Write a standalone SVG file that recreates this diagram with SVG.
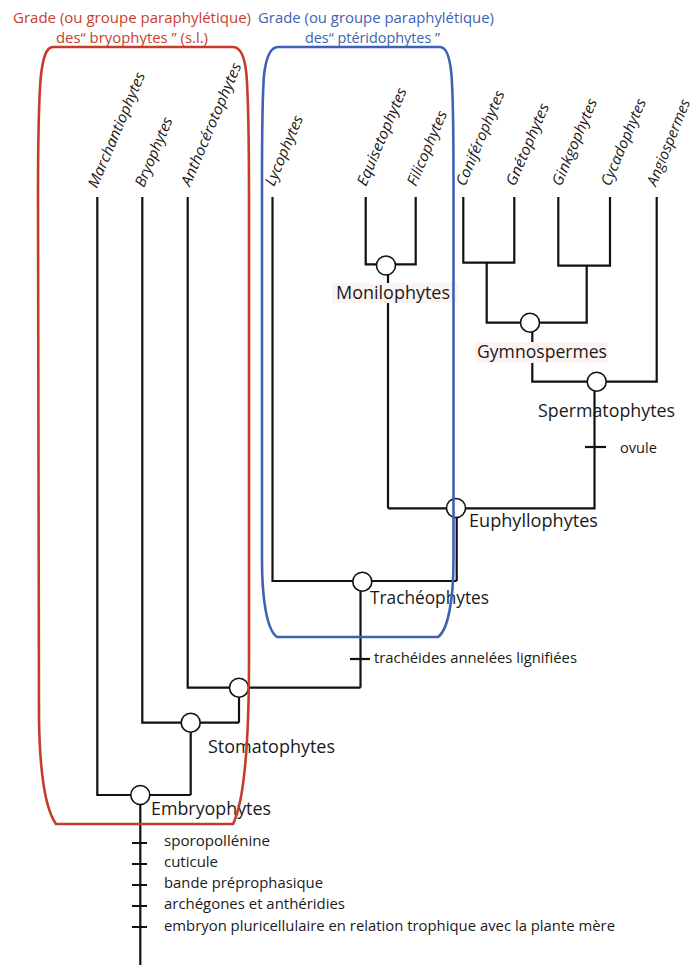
<svg xmlns="http://www.w3.org/2000/svg" width="694" height="965" viewBox="0 0 694 965">
<style>
  text { font-family: "Open Sans", "Noto Sans", sans-serif; fill: #1a1a1a; }
  .leaf { font-size: 15px; font-style: italic; }
  .clade { font-size: 18px; }
  .char { font-size: 15px; }
  .hdr { font-size: 15px; }
  .red { fill: #c8402e; }
  .blue { fill: #3d62b4; }
  .ln { fill: none; stroke: #111; stroke-width: 2.2; stroke-linejoin: miter; stroke-linecap: butt; }
  .nd { fill: #fff; stroke: #111; stroke-width: 1.6; }
  .bg { fill: #fcf3f3; }
</style>
<rect width="694" height="965" fill="#fff"/>

<g id="headers">
  <text class="hdr red" x="13" y="23" textLength="238" lengthAdjust="spacingAndGlyphs">Grade (ou groupe paraphylétique)</text>
  <text class="hdr red" x="56" y="42.5" textLength="152" lengthAdjust="spacingAndGlyphs">des“ bryophytes ” (s.l.)</text>
  <text class="hdr blue" x="258" y="23" textLength="236" lengthAdjust="spacingAndGlyphs">Grade (ou groupe paraphylétique)</text>
  <text class="hdr blue" x="305" y="42.5" textLength="135" lengthAdjust="spacingAndGlyphs">des“ ptéridophytes ”</text>
</g>

<g id="connectors">
  <path class="ln" d="M97.3 197 V795 H190.7"/>
  <path class="ln" d="M190.7 795 V722.7"/>
  <path class="ln" d="M142.3 197 V722.7 H239"/>
  <path class="ln" d="M239 722.7 V687.7"/>
  <path class="ln" d="M187.7 197 V687.7 H360.5"/>
  <path class="ln" d="M360.5 687.7 V581"/>
  <path class="ln" d="M272.5 197 V581 H456.7"/>
  <path class="ln" d="M456.7 581 V508.3"/>
  <path class="ln" d="M388 508.3 H594.5 V381.7"/>
  <path class="ln" d="M388 508.3 V264.3"/>
  <path class="ln" d="M365.7 197 V264.3 H415.7 V197"/>
  <path class="ln" d="M463.3 197 V262.7 H514.3 V197"/>
  <path class="ln" d="M486.7 262.7 V322.7 H586.7 V265.7"/>
  <path class="ln" d="M558.3 197 V265.7 H610 V197"/>
  <path class="ln" d="M532.3 322.7 V381.7 H656.7 V197"/>
  <path class="ln" d="M140.3 795 V965"/>
  <path class="ln" d="M585 447 H606"/>
  <path class="ln" d="M350 659 H370"/>
  <path class="ln" d="M132 843 H147 M132 864 H147 M132 885 H147 M132 906 H147 M132 927 H147"/>
</g>

<g id="leaf-marchantiophytes"><text class="leaf" transform="translate(97,189) rotate(-67)" textLength="124" lengthAdjust="spacingAndGlyphs">Marchantiophytes</text></g>
<g id="leaf-bryophytes"><text class="leaf" transform="translate(144,188) rotate(-67)" textLength="74" lengthAdjust="spacingAndGlyphs">Bryophytes</text></g>
<g id="leaf-anthocerotophytes"><text class="leaf" transform="translate(190,187) rotate(-67)" textLength="132" lengthAdjust="spacingAndGlyphs">Anthocérotophytes</text></g>
<g id="leaf-lycophytes"><text class="leaf" transform="translate(274,187) rotate(-67)" textLength="75" lengthAdjust="spacingAndGlyphs">Lycophytes</text></g>
<g id="leaf-equisetophytes"><text class="leaf" transform="translate(366,187) rotate(-67)" textLength="105" lengthAdjust="spacingAndGlyphs">Equisetophytes</text></g>
<g id="leaf-filicophytes"><text class="leaf" transform="translate(416,187) rotate(-67)" textLength="80" lengthAdjust="spacingAndGlyphs">Filicophytes</text></g>
<g id="leaf-coniferophytes"><text class="leaf" transform="translate(465,187) rotate(-67)" textLength="102" lengthAdjust="spacingAndGlyphs">Coniférophytes</text></g>
<g id="leaf-gnetophytes"><text class="leaf" transform="translate(515,187) rotate(-67)" textLength="88" lengthAdjust="spacingAndGlyphs">Gnétophytes</text></g>
<g id="leaf-ginkgophytes"><text class="leaf" transform="translate(561,187) rotate(-67)" textLength="93" lengthAdjust="spacingAndGlyphs">Ginkgophytes</text></g>
<g id="leaf-cycadophytes"><text class="leaf" transform="translate(610,187) rotate(-67)" textLength="93" lengthAdjust="spacingAndGlyphs">Cycadophytes</text></g>
<g id="leaf-angiospermes"><text class="leaf" transform="translate(656,187) rotate(-68)" textLength="92" lengthAdjust="spacingAndGlyphs">Angiospermes</text></g>

<g id="node-monilophytes">
  <rect class="bg" x="332" y="283" width="126" height="20"/>
  <circle class="nd" cx="386" cy="265.5" r="9.5"/>
  <text class="clade" x="336" y="299" textLength="114" lengthAdjust="spacingAndGlyphs">Monilophytes</text>
</g>
<g id="node-gymnospermes">
  <rect class="bg" x="475" y="342" width="133" height="21"/>
  <circle class="nd" cx="530" cy="322.7" r="9.5"/>
  <text class="clade" x="477" y="358" textLength="130" lengthAdjust="spacingAndGlyphs">Gymnospermes</text>
</g>
<g id="node-spermatophytes">
  <circle class="nd" cx="596.7" cy="381.7" r="9.5"/>
  <text class="clade" x="538" y="417" textLength="137" lengthAdjust="spacingAndGlyphs">Spermatophytes</text>
  <text class="char" x="620" y="453" textLength="37" lengthAdjust="spacingAndGlyphs">ovule</text>
</g>
<g id="node-euphyllophytes">
  <circle class="nd" cx="456" cy="508" r="9.5"/>
  <text class="clade" x="469" y="527" textLength="129" lengthAdjust="spacingAndGlyphs">Euphyllophytes</text>
</g>
<g id="node-tracheophytes">
  <circle class="nd" cx="362.3" cy="581.7" r="9.5"/>
  <text class="clade" x="370" y="604" textLength="119" lengthAdjust="spacingAndGlyphs">Trachéophytes</text>
  <text class="char" x="374" y="663" textLength="203" lengthAdjust="spacingAndGlyphs">trachéides annelées lignifiées</text>
</g>
<g id="node-anthoc-trach">
  <circle class="nd" cx="239" cy="687.7" r="9.5"/>
</g>
<g id="node-stomatophytes">
  <circle class="nd" cx="190.7" cy="722.7" r="9.5"/>
  <text class="clade" x="208" y="753" textLength="127" lengthAdjust="spacingAndGlyphs">Stomatophytes</text>
</g>
<g id="node-embryophytes">
  <circle class="nd" cx="140.3" cy="795" r="9.5"/>
  <text class="clade" x="151" y="815" textLength="120" lengthAdjust="spacingAndGlyphs">Embryophytes</text>
  <text class="char" x="164" y="846" textLength="106" lengthAdjust="spacingAndGlyphs">sporopollénine</text>
  <text class="char" x="164" y="867" textLength="54" lengthAdjust="spacingAndGlyphs">cuticule</text>
  <text class="char" x="164" y="888" textLength="159" lengthAdjust="spacingAndGlyphs">bande préprophasique</text>
  <text class="char" x="164" y="909" textLength="181" lengthAdjust="spacingAndGlyphs">archégones et anthéridies</text>
  <text class="char" x="164" y="930.5" textLength="451" lengthAdjust="spacingAndGlyphs">embryon pluricellulaire en relation trophique avec la plante mère</text>
</g>

<g id="grade-bryophytes">
  <path fill="none" stroke="#c63c2b" stroke-width="2.6" d="M53 47 L233 47 C241 47 245 58 246.5 75 C248 95 249 125 249 200 L249 660 C249 740 245 800 233 824 L56 824 C46 810 40 780 39 720 L38 200 C38 125 39 95 41 75 C43 58 46 47 53 47 Z"/>
</g>
<g id="grade-pteridophytes">
  <path fill="none" stroke="#3d62b4" stroke-width="2.6" d="M278 47 L440 47 C447 47 450 58 451.5 75 C453 95 453.5 125 453.5 180 L453.5 560 C453.5 600 448 630 438 637 L277 637 C267 630 262 600 262 560 L262 180 C262 125 262.5 95 264 75 C266 58 270 47 278 47 Z"/>
</g>
</svg>
